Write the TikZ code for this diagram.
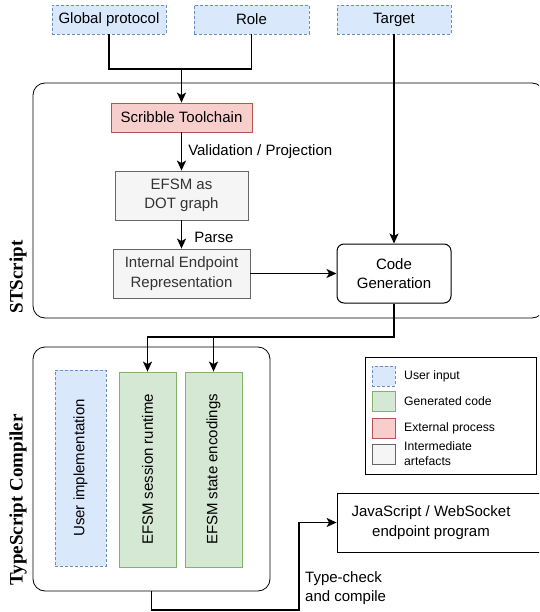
\documentclass[tikz,border=0pt]{standalone}
\usepackage{fontspec}
\setmainfont{Liberation Sans}
\newfontfamily\headfont{Liberation Serif}
\usetikzlibrary{arrows.meta}
\definecolor{userfill}{HTML}{DAE8FC}
\definecolor{userline}{HTML}{6C8EBF}
\definecolor{genfill}{HTML}{D5E8D4}
\definecolor{genline}{HTML}{82B366}
\definecolor{extfill}{HTML}{F8CECC}
\definecolor{extline}{HTML}{B85450}
\definecolor{midfill}{HTML}{F5F5F5}
\definecolor{midline}{HTML}{666666}
\definecolor{midtext}{HTML}{333333}
\def\mainfont{\fontsize{15}{19.3}\selectfont}
\def\legendfont{\fontsize{12.2}{15}\selectfont}
\tikzset{
  userin/.style={draw=userline, fill=userfill, dash pattern=on 3pt off 2pt, line width=0.8pt},
  gencode/.style={draw=genline, fill=genfill, line width=0.8pt},
  extproc/.style={draw=extline, fill=extfill, line width=0.8pt},
  artefact/.style={draw=midline, fill=midfill, text=midtext, line width=0.8pt, align=center},
  group/.style={draw, rounded corners=12pt, line width=0.8pt},
  wire/.style={line width=1.5pt},
  link/.style={wire, -{Stealth[length=10pt,width=9pt,inset=2.5pt]}},
  grouptitle/.style={rotate=90, font=\headfont\bfseries\fontsize{19}{22}\selectfont}
}
% one entry of the key: name, style, y, text
\def\legendentry(#1,#2,#3,#4){
  \node[#2, minimum width=23, minimum height=20] (key_#1) at (383.5,#3) {};
  \node[anchor=west, inner sep=0pt, align=left, font=\legendfont] (txt_#1) at (404,#3) {#4};
}

\begin{document}
\begin{tikzpicture}[x=1pt, y=-1pt, font=\mainfont, inner sep=0pt]
\clip (0,0) rectangle (539,612);
% groups
\node[group, minimum width=511, minimum height=235] (stscript) at (288.5,200.5) {};
\node[grouptitle] (stscript_t) at (18,277) {STScript};
\node[group, minimum width=237, minimum height=244] (tsc) at (151.5,469) {};
\node[grouptitle] (tsc_t) at (18,500) {TypeScript Compiler};

% inputs
\node[userin, minimum width=114, minimum height=29] (gp) at (109,19.5) {Global protocol};
\node[userin, minimum width=115, minimum height=29] (role) at (251.5,19.5) {Role};
\node[userin, minimum width=114, minimum height=29] (target) at (394,19.5) {Target};

% STScript
\node[extproc, minimum width=141, minimum height=29] (scribble) at (181.5,117.5) {Scribble Toolchain};
\node[artefact, minimum width=133, minimum height=49] (dot) at (181.5,195.5) {EFSM as\\DOT graph};
\node[artefact, minimum width=137, minimum height=49] (iep) at (181.5,273.5) {Internal Endpoint\\Representation};
\node[draw, rounded corners=7pt, line width=1pt, align=center, minimum width=114, minimum height=59] (codegen) at (394,273.5) {Code\\Generation};

% TypeScript compiler
\node[userin, minimum width=51, minimum height=196] (userimpl) at (80.5,468) {};
\node[rotate=90] (userimpl_t) at (userimpl) {User implementation};
\node[gencode, minimum width=57, minimum height=195] (runtime) at (147.5,469.5) {};
\node[rotate=90] (runtime_t) at (runtime) {EFSM session runtime};
\node[gencode, minimum width=57, minimum height=195] (encoding) at (213.5,469.5) {};
\node[rotate=90] (encoding_t) at (encoding) {EFSM state encodings};

% output
\node[draw, line width=0.8pt, minimum width=210, minimum height=59] (js) at (442,522.5) {};
\node[align=center] (js_t) at (431,522.5) {JavaScript / WebSocket\\endpoint program};
\node[anchor=west, align=left] (tc) at (305,588) {Type-check\\and compile};

% key
\node[draw, line width=0.8pt, minimum width=171, minimum height=117] (legend) at (450.5,415.5) {};
\legendentry(user,userin,376,User input)
\legendentry(gen,gencode,401.5,Generated code)
\legendentry(ext,extproc,428,External process)
\legendentry(mid,artefact,454,Intermediate\\artefacts)

% connectors
\coordinate (join) at (181.5,69);
\coordinate (fork) at (213.5,337);
\coordinate (low) at (299,610);
\draw[wire] (gp.south) |- (join);
\draw[wire] (role.south) |- (join);
\draw[link] (join) -- (scribble.north);
\draw[link] (scribble) -- node[right, xshift=6pt] {Validation / Projection} (dot);
\draw[link] (dot) -- node[right, xshift=12pt, yshift=-2.5pt] {Parse} (iep);
\draw[link] (iep) -- (codegen);
\draw[link] (target) -- (codegen);
\draw[link] (codegen.south) |- (fork) -| (runtime.north);
\draw[link] (fork) -- (encoding.north);
\draw[link] (tsc.south) |- (low) |- (js.west);
\end{tikzpicture}
\end{document}
